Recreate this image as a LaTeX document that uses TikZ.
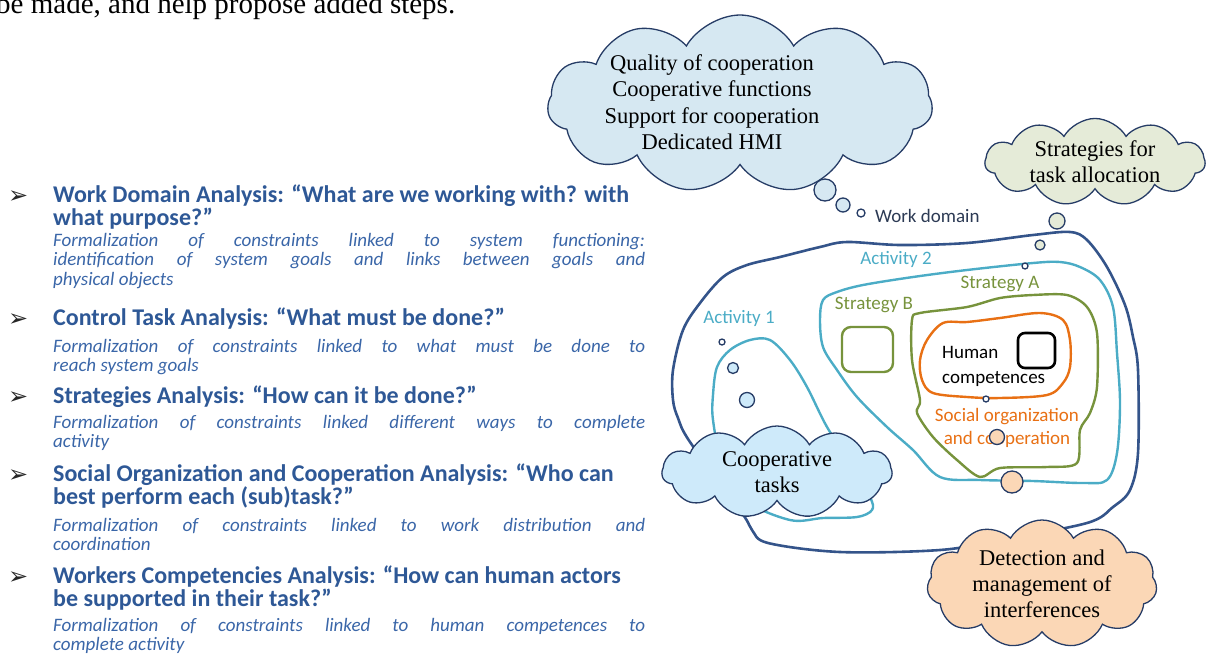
\documentclass[tikz,border=0pt]{standalone}
\usepackage{fontspec}
\setmainfont{Liberation Serif}
\newfontfamily\calibri{Carlito}
\newfontfamily\dingfont{DejaVu Sans}
\usepackage{xcolor}
\usepackage{tikz}
\usetikzlibrary{shapes.symbols}

\definecolor{headblue}{RGB}{46,88,150}
\definecolor{descblue}{RGB}{58,102,168}
\definecolor{wdblue}{RGB}{52,84,138}
\definecolor{cloudline}{RGB}{38,60,102}
\definecolor{actcyan}{RGB}{75,172,198}
\definecolor{stratgreen}{RGB}{119,147,60}
\definecolor{socorange}{RGB}{232,112,20}
\definecolor{qfill}{RGB}{214,232,242}
\definecolor{tfill}{RGB}{229,235,216}
\definecolor{cfill}{RGB}{206,234,250}
\definecolor{dfill}{RGB}{251,215,182}
\definecolor{labdark}{RGB}{44,58,84}

\newcommand\spreadline[1]{\makebox[592pt][s]{#1}}

\begin{document}
\begin{tikzpicture}[x=1pt,y=-1pt,
   head/.style={anchor=base west,inner sep=0pt,align=left,text=headblue,
                font=\calibri\bfseries\fontsize{24}{23}\selectfont},
   desc/.style={anchor=base west,inner sep=0pt,align=left,text=descblue,
                font=\calibri\itshape\fontsize{19}{19.5}\selectfont},
   tick/.style={anchor=base west,inner sep=0pt,text=black!85,
                font=\dingfont\fontsize{24}{24}\selectfont},
   domline/.style={draw=wdblue,line width=2.6pt,line join=round},
   actline/.style={draw=actcyan,line width=2.4pt,line join=round},
   stratline/.style={draw=stratgreen,line width=2.4pt,line join=round},
   socline/.style={draw=socorange,line width=2.4pt,line join=round},
   lab/.style={anchor=base,inner sep=0pt,font=\calibri\fontsize{19}{25}\selectfont},
   thought/.style={cloud,cloud puffs=11,cloud puff arc=120,cloud ignores aspect,
                   draw=cloudline,line width=1.3pt,inner sep=0pt,align=center,
                   font=\fontsize{22.5}{26}\selectfont},
   bubble/.style={circle,draw=cloudline,line width=1.3pt,inner sep=0pt}]
  \useasboundingbox (0,0) rectangle (1208,657);
  \clip (0,0) rectangle (1208,657);

  % running text above
  \node[anchor=base west,inner sep=0pt,font=\fontsize{29}{29}\selectfont] (topline)
       at (-4,13) {be made, and help propose added steps.};

  % list of analyses (base = last line)
  \node[tick] (t1) at (8,203) {➢};
  \node[head] (h1) at (53,225) {Work Domain Analysis: “What are we working with? with\\what purpose?”};
  \node[desc] (d1) at (53,285) {\spreadline{Formalization of constraints linked to system functioning:}\\
     \spreadline{identification of system goals and links between goals and}\\physical objects};
  \node[tick] (t2) at (8,326) {➢};
  \node[head] (h2) at (53,325) {Control Task Analysis: “What must be done?”};
  \node[desc] (d2) at (53,371.5) {\spreadline{Formalization of constraints linked to what must be done to}\\reach system goals};
  \node[tick] (t3) at (8,404) {➢};
  \node[head] (h3) at (53,403) {Strategies Analysis: “How can it be done?”};
  \node[desc] (d3) at (53,447.5) {\spreadline{Formalization of constraints linked different ways to complete}\\activity};
  \node[tick] (t4) at (8,482) {➢};
  \node[head] (h4) at (53,504) {Social Organization and Cooperation Analysis: “Who can\\best perform each (sub)task?”};
  \node[desc] (d4) at (53,550.5) {\spreadline{Formalization of constraints linked to work distribution and}\\coordination};
  \node[tick] (t5) at (8,584) {➢};
  \node[head] (h5) at (53,606) {Workers Competencies Analysis: “How can human actors\\be supported in their task?”};
  \node[desc] (d5) at (53,650.5) {\spreadline{Formalization of constraints linked to human competences to}\\complete activity};

  % nested areas
  \draw[domline] plot[smooth cycle,tension=0.55] coordinates {(1087,523) (1113,507)
     (1130,490) (1138,453) (1138,370) (1133,337) (1125,305) (1107,267) (1087,240)
     (1070,232) (1033,235) (967,243) (900,245) (847,242) (820,247) (780,257)
     (747,265) (723,277) (700,303) (683,330) (673,370) (673,400) (678,418) (690,442)
     (742,513) (752,530) (768,543) (840,552) (940,550) (1000,540)};
  \draw[actline] plot[smooth cycle,tension=0.55] coordinates {(820,320) (823,300)
     (837,292) (863,285) (913,277) (967,270) (1033,263) (1060,262) (1080,267)
     (1100,280) (1113,307) (1117,353) (1120,403) (1117,453) (1107,480) (1083,483)
     (1033,481) (980,480) (940,477) (913,450) (887,427) (857,397) (837,370) (823,347)};
  \draw[actline] plot[smooth cycle,tension=0.55] coordinates {(717,367) (730,350)
     (750,340) (770,340) (790,360) (807,387) (827,427) (850,462) (870,497) (872,510)
     (857,517) (823,518) (790,520) (745,500) (722,462) (713,420) (713,395)};
  \draw[stratline,rounded corners=9pt] (842,327) rectangle (893,372);
  \draw[stratline] plot[smooth cycle,tension=0.5] coordinates {(912,320) (920,313)
     (967,307) (1000,298) (1033,295) (1067,295) (1087,307) (1097,333) (1097,387)
     (1090,413) (1080,430) (1077,463) (1047,467) (1000,468) (980,477) (957,460)
     (933,437) (917,413) (920,400) (912,360)};
  \draw[socline] plot[smooth cycle,tension=0.55] coordinates {(927,340) (943,323)
     (967,322) (1000,318) (1040,313) (1063,320) (1070,340) (1070,367) (1063,383)
     (1047,395) (1000,398) (967,397) (933,393) (922,380) (920,360)};
  \draw[black,line width=2.6pt,rounded corners=7pt] (1018,333) rectangle (1055,368);

  % area labels
  \node[lab,anchor=base west,text=labdark] (wdlab) at (875,222) {Work domain};
  \node[lab,text=actcyan] (a2lab) at (896,264) {Activity 2};
  \node[lab,text=actcyan] (a1lab) at (739,323) {Activity 1};
  \node[lab,text=stratgreen] (sblab) at (874,309) {Strategy B};
  \node[lab,text=stratgreen] (salab) at (1000,288) {Strategy A};
  \node[lab,anchor=base west,align=left] (hclab) at (942,383) {Human\\competences};
  \node[lab,align=center,text=socorange,font=\calibri\fontsize{19}{23}\selectfont]
       (solab) at (1007,444) {Social organization\\and cooperation};

  % thought clouds
  \node[thought,fill=qfill,minimum width=385pt,minimum height=178pt] (qcloud) at (740,104) {};
  \node[inner sep=0pt,align=center,font=\fontsize{22.5}{26.5}\selectfont] (qtext) at (712,102)
       {Quality of cooperation\\Cooperative functions\\Support for cooperation\\Dedicated HMI};
  \node[thought,fill=tfill,minimum width=220pt,minimum height=82pt] (tcloud) at (1095,162)
       {Strategies for\\task allocation};
  \node[thought,fill=cfill,minimum width=230pt,minimum height=92pt] (ccloud) at (777,472)
       {Cooperative\\tasks};
  \node[thought,fill=dfill,minimum width=230pt,minimum height=128pt] (dcloud) at (1042,584)
       {Detection and\\management of\\interferences};

  % bubbles
  \node[bubble,fill=qfill,minimum size=22pt] (qb1) at (825,190) {};
  \node[bubble,fill=qfill,minimum size=14pt] (qb2) at (843,205) {};
  \node[bubble,fill=white,minimum size=8pt] (qb3) at (861,213) {};
  \node[bubble,fill=tfill,minimum size=16pt] (tb1) at (1057,221) {};
  \node[bubble,fill=tfill,minimum size=10pt] (tb2) at (1040,245) {};
  \node[bubble,fill=white,minimum size=6pt] (tb3) at (1025,266) {};
  \node[bubble,fill=white,minimum size=6pt] (cb3) at (722,342) {};
  \node[bubble,fill=cfill,minimum size=11pt] (cb2) at (733,368) {};
  \node[bubble,fill=cfill,minimum size=15pt] (cb1) at (747,400) {};
  \node[bubble,fill=white,minimum size=6pt] (db3) at (986,399) {};
  \node[bubble,fill=dfill,minimum size=15pt] (db2) at (997,437) {};
  \node[bubble,fill=dfill,minimum size=22pt] (db1) at (1012,482) {};
\end{tikzpicture}
\end{document}
